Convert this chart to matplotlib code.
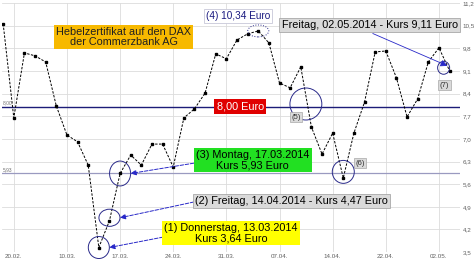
import numpy as np
import matplotlib.pyplot as plt
from matplotlib.patches import Ellipse

# Kursverlauf des Hebelzertifikats (Schlusskurse, Euro)
kurs = [10.56, 7.65, 9.66, 9.57, 9.38, 8.02, 7.12, 6.91, 6.19, 3.64,
        4.47, 5.93, 6.50, 6.19, 6.84, 6.84, 6.13, 7.65, 7.93, 8.42,
        9.63, 9.48, 10.06, 10.25, 10.34, 9.97, 8.73, 8.58, 9.23, 7.37,
        6.53, 7.18, 5.79, 7.18, 8.14, 9.69, 9.72, 8.89, 7.68, 8.24,
        9.38, 9.82, 9.11]
tick_pos = [1, 6, 11, 16, 21, 26, 31, 36, 41]
tick_labels = ['20.02.', '10.03.', '17.03.', '24.03.', '31.03.',
               '07.04.', '14.04.', '22.04.', '02.05.']
y_ticks = [3.5, 4.2, 4.9, 5.6, 6.3, 7.0, 7.7, 8.4, 9.1, 9.8, 10.5, 11.2]
marken = [8.00, 5.93]

plt.rcParams['font.family'] = ['Liberation Sans', 'DejaVu Sans']

fig = plt.figure(figsize=(4.74, 2.62), dpi=100)
ax = fig.add_axes([0.004, 0.038, 0.966, 0.950])

x = np.arange(len(kurs))
ax.plot(x, kurs, color='black', lw=0.7, ls=(0, (2.5, 1.5)),
        marker='s', ms=1.8, zorder=3)

# Marken 8,00 und 5,93
ax.axhline(marken[0], color='#1c1c78', lw=1.0, zorder=2)
ax.axhline(marken[1], color='#9a9ac0', lw=0.9, zorder=2)
for m in marken:
    ax.text(0.0, m + 0.05, f'{m:.2f}'.replace('.', ','), fontsize=3.5,
            color='#707070', va='bottom', ha='left')

ax.set_xlim(-0.12, 42.96)
ax.set_ylim(3.5, 11.2)
ax.set_xticks(tick_pos)
ax.set_xticklabels(tick_labels)
ax.set_yticks(y_ticks)
ax.set_yticklabels([f'{v:.1f}'.replace('.', ',') for v in y_ticks])
ax.yaxis.tick_right()
ax.tick_params(length=0, labelsize=4.5, labelcolor='#606060')
ax.tick_params(axis='x', pad=1.5)
ax.tick_params(axis='y', pad=2)
ax.grid(True, color='#dcdcdc', lw=0.6)
ax.set_axisbelow(True)
for s in ax.spines.values():
    s.set_visible(False)

fs = 7.8
ta = ax.transAxes
ax.text(0.266, 0.863, 'Hebelzertifikat auf den DAX\nder Commerzbank AG',
        transform=ta, fontsize=fs, ha='center', va='center', linespacing=1.0,
        color='#202020', bbox=dict(boxstyle='square,pad=0.2', fc='#f7b900', ec='none'))
ax.text(22.3, marken[0], '8,00 Euro', fontsize=7.8, ha='center', va='center',
        color='white', zorder=5,
        bbox=dict(boxstyle='square,pad=0.2', fc='#e00000', ec='none'))
ax.text(0.515, 0.948, '(4) 10,34 Euro', transform=ta, fontsize=7.2,
        ha='center', va='center', color='#1a1a80',
        bbox=dict(boxstyle='square,pad=0.2', fc='white', ec='#c8c8d8', lw=0.6))
ax.text(0.803, 0.912, 'Freitag, 02.05.2014 - Kurs 9,11 Euro', transform=ta,
        fontsize=fs, ha='center', va='center', color='black', zorder=5,
        bbox=dict(boxstyle='square,pad=0.2', fc='#dadada', ec='#a8a8a8', lw=0.6))
ax.text(0.548, 0.369, '(3) Montag, 17.03.2014\nKurs 5,93 Euro', transform=ta,
        fontsize=fs, ha='center', va='center', color='black', linespacing=1.0,
        zorder=5, bbox=dict(boxstyle='square,pad=0.2', fc='#22e022', ec='none'))
ax.text(0.633, 0.205, '(2) Freitag, 14.04.2014 - Kurs 4,47 Euro', transform=ta,
        fontsize=fs, ha='center', va='center', color='black', zorder=5,
        bbox=dict(boxstyle='square,pad=0.2', fc='#dadada', ec='#a8a8a8', lw=0.6))
ax.text(0.5, 0.076, '(1) Donnerstag, 13.03.2014\nKurs 3,64 Euro', transform=ta,
        fontsize=fs, ha='center', va='center', color='black', linespacing=1.0,
        zorder=5, bbox=dict(boxstyle='square,pad=0.2', fc='#ffff00', ec='none'))
for lab, fx, fy in [('(5)', 0.642, 0.542), ('(6)', 0.782, 0.357), ('(7)', 0.967, 0.671)]:
    ax.text(fx, fy, lab, transform=ta, fontsize=5.5, ha='center', va='center',
            color='#303030', zorder=5,
            bbox=dict(boxstyle='square,pad=0.2', fc='#dadada', ec='#a8a8a8', lw=0.5))

# Kreise um die markierten Kurse
kreise = [
    (9, kurs[9], 1.98, 0.68, '-'),
    (10, kurs[10] + 0.09, 1.98, 0.53, '-'),
    (11, kurs[11], 1.98, 0.77, '-'),
    (24, kurs[24], 1.98, 0.37, ':'),
    (28.48, 8.08, 3.0, 0.99, '-'),
    (32, kurs[32] + 0.19, 2.07, 0.71, '-'),
    (41.44, kurs[42] + 0.09, 1.13, 0.40, '-'),
]
for cx, cy, w, h, st in kreise:
    ax.add_patch(Ellipse((cx, cy), w, h, fill=False, ec='#2a2a8a', lw=0.7,
                         ls=st, zorder=4, clip_on=False))

pfeil = dict(arrowstyle='-|>', color='#2828c8', lw=0.7, ls='--',
             mutation_scale=8, shrinkA=0, shrinkB=0)
for (fx, fy), (cx, cy, w, h, st) in zip([(0.352, 0.060), (0.419, 0.201), (0.419, 0.357)],
                                        kreise[:3]):
    ax.annotate('', xy=(cx + w / 2, cy), xytext=(fx, fy), textcoords=ta,
                arrowprops=pfeil, zorder=4)
ax.annotate('', xy=(41.8, kurs[42] + 0.15), xytext=(0.81, 0.878), textcoords=ta,
            arrowprops=dict(arrowstyle='-|>', color='#2828c8', lw=0.6,
                            mutation_scale=10, shrinkA=0, shrinkB=0), zorder=4)

fig.savefig('out.png', dpi=100)
